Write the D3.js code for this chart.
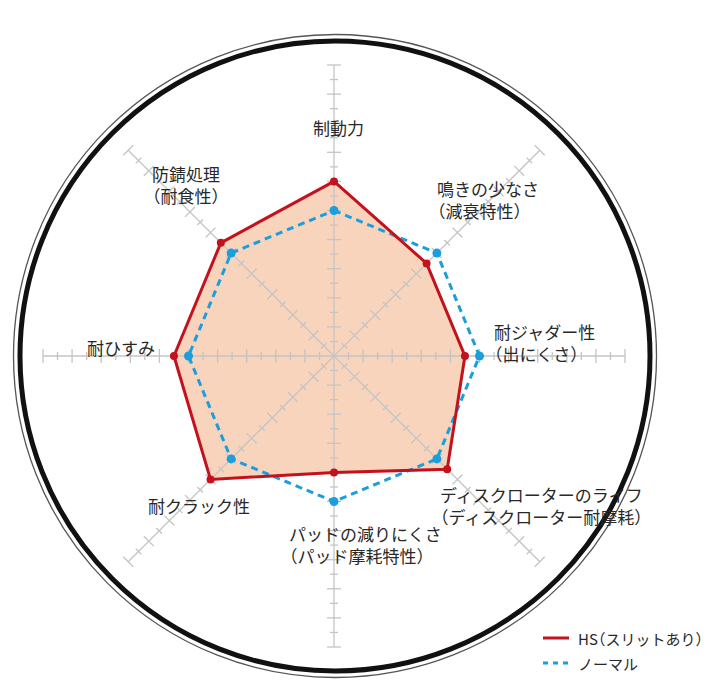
<!DOCTYPE html>
<html><head><meta charset="utf-8">
<script src="https://cdn.jsdelivr.net/npm/d3@7"></script>
<style>
html,body{margin:0;padding:0;background:#fff;}
svg{display:block;}
text{font-family:"Noto Sans CJK JP","Noto Sans",sans-serif;fill:#282828;}
.paren{font-feature-settings:"halt";}
</style></head>
<body>
<svg id="chart" width="720" height="697"></svg>
<script>
// ---- data ----
const categories = ["制動力","鳴きの少なさ","耐ジャダー性","ディスクローターのライフ","パッドの減りにくさ","耐クラック性","耐ひすみ","防錆処理"];
const subLabels = ["","（減衰特性）","（出にくさ）","（ディスクローター耐摩耗）","（パッド摩耗特性）","","","（耐食性）"];
const hsValues = [6, 4.5, 4.5, 5.5, 4, 6, 5.5, 5.5];
const normalValues = [5, 5, 5, 5, 5, 5, 5, 5];
const seriesNames = ["HS（スリットあり）","ノーマル"];
const tickValues = d3.range(0.5, 10.01, 0.5);

// ---- layout ----
const cx = 334, cy = 356, R = 291;
const labelPos = [ // left x, y centre of first line (layout only)
  [313,127],[437,188],[494,331],[440,494],[289,533],[148,505],[87,347],[152,173]
];
const svg = d3.select("#chart");
const r = d3.scaleLinear().domain([0,10]).range([0,R]);
const angle = i => i * Math.PI * 2 / categories.length;

// outer rings
svg.append("circle").attr("cx",335).attr("cy",356).attr("r",321.5)
  .attr("fill","none").attr("stroke","#555").attr("stroke-width",1.3);
svg.append("circle").attr("cx",335).attr("cy",356).attr("r",315)
  .attr("fill","none").attr("stroke","#111").attr("stroke-width",5);

const g = svg.append("g").attr("transform",`translate(${cx},${cy})`);

// HS fill
const radial = d3.lineRadial().curve(d3.curveLinearClosed)
  .angle((d,i)=>angle(i)).radius(d=>r(d));
g.append("path").datum(hsValues).attr("d",radial)
  .attr("fill","#f9d4bd").attr("stroke","none");

// axes + ticks
const grid = g.append("g").attr("stroke","#c4c4c4").attr("stroke-width",1.3).attr("fill","none");
categories.forEach((c,i)=>{
  const a = angle(i), sx = Math.sin(a), sy = -Math.cos(a);
  grid.append("line").attr("x1",0).attr("y1",0).attr("x2",r(10)*sx).attr("y2",r(10)*sy);
  tickValues.forEach((t,k)=>{
    const len = (k%2===1) ? 7 : 4;
    const px = r(t)*sx, py = r(t)*sy;
    grid.append("line")
      .attr("x1",px - len*Math.cos(a)).attr("y1",py - len*Math.sin(a))
      .attr("x2",px + len*Math.cos(a)).attr("y2",py + len*Math.sin(a));
  });
});

// normal series (blue dashed)
g.append("path").datum(normalValues).attr("d",radial)
  .attr("fill","none").attr("stroke","#1a9edc").attr("stroke-width",3)
  .attr("stroke-dasharray","7,5");
g.selectAll(".nm").data(normalValues).join("circle")
  .attr("cx",(d,i)=>r(d)*Math.sin(angle(i))).attr("cy",(d,i)=>-r(d)*Math.cos(angle(i)))
  .attr("r",4.5).attr("fill","#1a9edc");

// HS series (red)
g.append("path").datum(hsValues).attr("d",radial)
  .attr("fill","none").attr("stroke","#c3121d").attr("stroke-width",3)
  .attr("stroke-linejoin","miter");
g.selectAll(".hm").data(hsValues).join("circle")
  .attr("cx",(d,i)=>r(d)*Math.sin(angle(i))).attr("cy",(d,i)=>-r(d)*Math.cos(angle(i)))
  .attr("r",4).attr("fill","#c3121d");

// labels
function addText(parent, str, x, y, size){
  const t = parent.append("text").attr("x",x).attr("y",y)
    .attr("dominant-baseline","central").attr("font-size",size);
  const parts = str.split(/([（）])/).filter(s=>s.length);
  parts.forEach(p=>{
    const ts = t.append("tspan").text(p);
    if (p==="（"||p==="）") ts.attr("class","paren");
  });
  return t;
}
categories.forEach((c,i)=>{
  const [x,y] = labelPos[i];
  addText(svg, c, x, y, 17);
  if (subLabels[i]) addText(svg, subLabels[i], x, y+22, 17);
});

// legend
const lg = svg.append("g");
lg.append("line").attr("x1",543).attr("x2",569).attr("y1",638).attr("y2",638)
  .attr("stroke","#c3121d").attr("stroke-width",3);
lg.append("line").attr("x1",543).attr("x2",569).attr("y1",663).attr("y2",663)
  .attr("stroke","#1a9edc").attr("stroke-width",3).attr("stroke-dasharray","5,5");
addText(lg, seriesNames[0], 578, 638, 15);
addText(lg, seriesNames[1], 578, 663, 15);
</script>
</body></html>
